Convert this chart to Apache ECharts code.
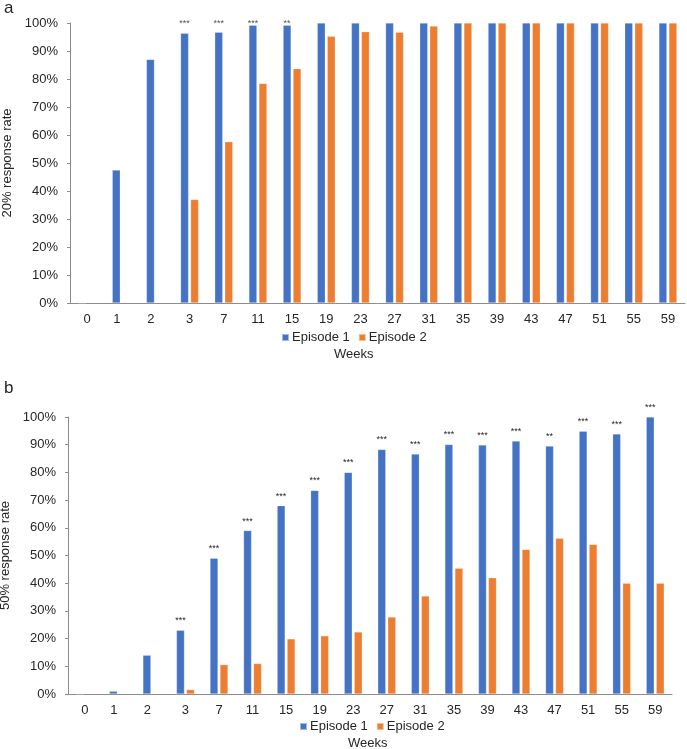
<!DOCTYPE html>
<html>
<head>
<meta charset="utf-8">
<script src="https://cdn.jsdelivr.net/npm/echarts@6/dist/echarts.min.js"></script>
<style>
html,body{margin:0;padding:0;background:#fff;}
#c{width:687px;height:749px;}
</style>
</head>
<body>
<div id="c"></div>
<script>
const weeks = ['0','1','2','3','7','11','15','19','23','27','31','35','39','43','47','51','55','59'];
const yTicks = [0,10,20,30,40,50,60,70,80,90,100];

// Panel a: 20% response rate
const a_ep1 = [0, 47.5, 87, 96.3, 96.7, 99.2, 99.2, 100, 100, 100, 100, 100, 100, 100, 100, 100, 100, 100];
const a_ep2 = [null, null, null, 37, 57.6, 78.4, 83.7, 95.3, 96.9, 96.7, 98.9, 100, 100, 100, 100, 100, 100, 100];
const a_sig = ['', '', '', '***', '***', '***', '**', '', '', '', '', '', '', '', '', '', '', ''];

// Panel b: 50% response rate
const b_ep1 = [0, 1, 14, 23, 49, 59, 68, 73.5, 80, 88.3, 86.6, 90.1, 89.9, 91.3, 89.5, 94.9, 93.9, 100];
const b_ep2 = [null, null, null, 1.6, 10.6, 11, 19.9, 21, 22.4, 27.8, 35.4, 45.4, 42, 52.2, 56.2, 54, 40, 40];
const b_sig = ['', '', '', '***', '***', '***', '***', '***', '***', '***', '***', '***', '***', '***', '**', '***', '***', '***'];

const BLUE = '#4472C4', ORANGE = '#ED7D31', AX = '#8c8c8c', TXT = '#262626';
const FONT = '"Liberation Sans", Arial, sans-serif';

function catAxis(gi) {
  return {
    type: 'category', gridIndex: gi, data: weeks,
    axisLine: {lineStyle: {color: AX, width: 1}},
    axisTick: {show: false},
    axisLabel: {
      interval: 0,
      color: TXT, fontFamily: FONT, fontSize: 13, margin: 10,
      formatter: function (v) { return (v === '1' || v === '2') ? '{s|' + v + '}' : v; },
      rich: {s: {color: TXT, fontFamily: FONT, fontSize: 13, padding: [0, 9, 0, 0]}}
    }
  };
}
function valAxis(gi, name, gap) {
  return {
    type: 'value', gridIndex: gi, min: yTicks[0], max: yTicks[yTicks.length - 1], interval: 10,
    name: name, nameLocation: 'middle', nameGap: gap,
    nameTextStyle: {color: TXT, fontFamily: FONT, fontSize: 13},
    axisLine: {show: true, lineStyle: {color: AX, width: 1}},
    axisTick: {show: true, length: 3, lineStyle: {color: AX}},
    splitLine: {show: false},
    axisLabel: {color: TXT, fontFamily: FONT, fontSize: 13, margin: 12, formatter: '{value}%'}
  };
}
function bar(name, data, color, gi, extra) {
  return Object.assign({
    name: name, type: 'bar', xAxisIndex: gi, yAxisIndex: gi, data: data,
    barWidth: 8, barGap: '25%',
    itemStyle: {color: color, borderColor: 'rgba(255,255,255,0.5)', borderWidth: 0.5},
    animation: false
  }, extra || {});
}
function legend(left, top) {
  return {left: left, top: top, padding: 0, icon: 'rect', itemWidth: 7, itemHeight: 7, itemGap: 8,
    data: ['Episode 1', 'Episode 2'],
    textStyle: {color: TXT, fontFamily: FONT, fontSize: 13, padding: [0, 0, 0, -2]}};
}

const chart = echarts.init(document.getElementById('c'), null, {renderer: 'canvas'});
chart.setOption({
  backgroundColor: '#fff',
  animation: false,
  grid: [
    {left: 70, right: 2, top: 23, height: 280, containLabel: false, outerBoundsMode: 'none'},
    {left: 68, right: 15, top: 417, height: 277, containLabel: false, outerBoundsMode: 'none'}
  ],
  xAxis: [catAxis(0), catAxis(1)],
  yAxis: [valAxis(0, '20% response rate', 54), valAxis(1, '50% response rate', 52)],
  legend: [legend(281, 331), legend(299, 720)],
  graphic: [
    {type: 'text', left: 4, top: 0, style: {text: 'a', font: '17px ' + FONT, fill: TXT}},
    {type: 'text', left: 4, top: 380, style: {text: 'b', font: '17px ' + FONT, fill: TXT}},
    {type: 'text', left: 334, top: 348, style: {text: 'Weeks', font: '13px ' + FONT, fill: TXT}},
    {type: 'text', left: 348, top: 737, style: {text: 'Weeks', font: '13px ' + FONT, fill: TXT}}
  ],
  series: [
    bar('Episode 1', a_ep1, BLUE, 0),
    bar('Episode 2', a_ep2, ORANGE, 0),
    {
      name: 'sigA', type: 'scatter', xAxisIndex: 0, yAxisIndex: 0, symbolSize: 0,
      data: a_sig.map(function (s) { return s ? yTicks[yTicks.length - 1] : '-'; }),
      label: {show: true, position: 'inside', offset: [-5, 1], color: TXT, fontFamily: FONT, fontSize: 9,
        formatter: function (p) { return a_sig[p.dataIndex]; }},
      silent: true, animation: false
    },
    bar('Episode 1', b_ep1, BLUE, 1, {
      label: {show: true, position: 'top', distance: 5, color: TXT, fontFamily: FONT, fontSize: 9,
        formatter: function (p) { return b_sig[p.dataIndex]; }}
    }),
    bar('Episode 2', b_ep2, ORANGE, 1)
  ]
});
</script>
</body>
</html>
